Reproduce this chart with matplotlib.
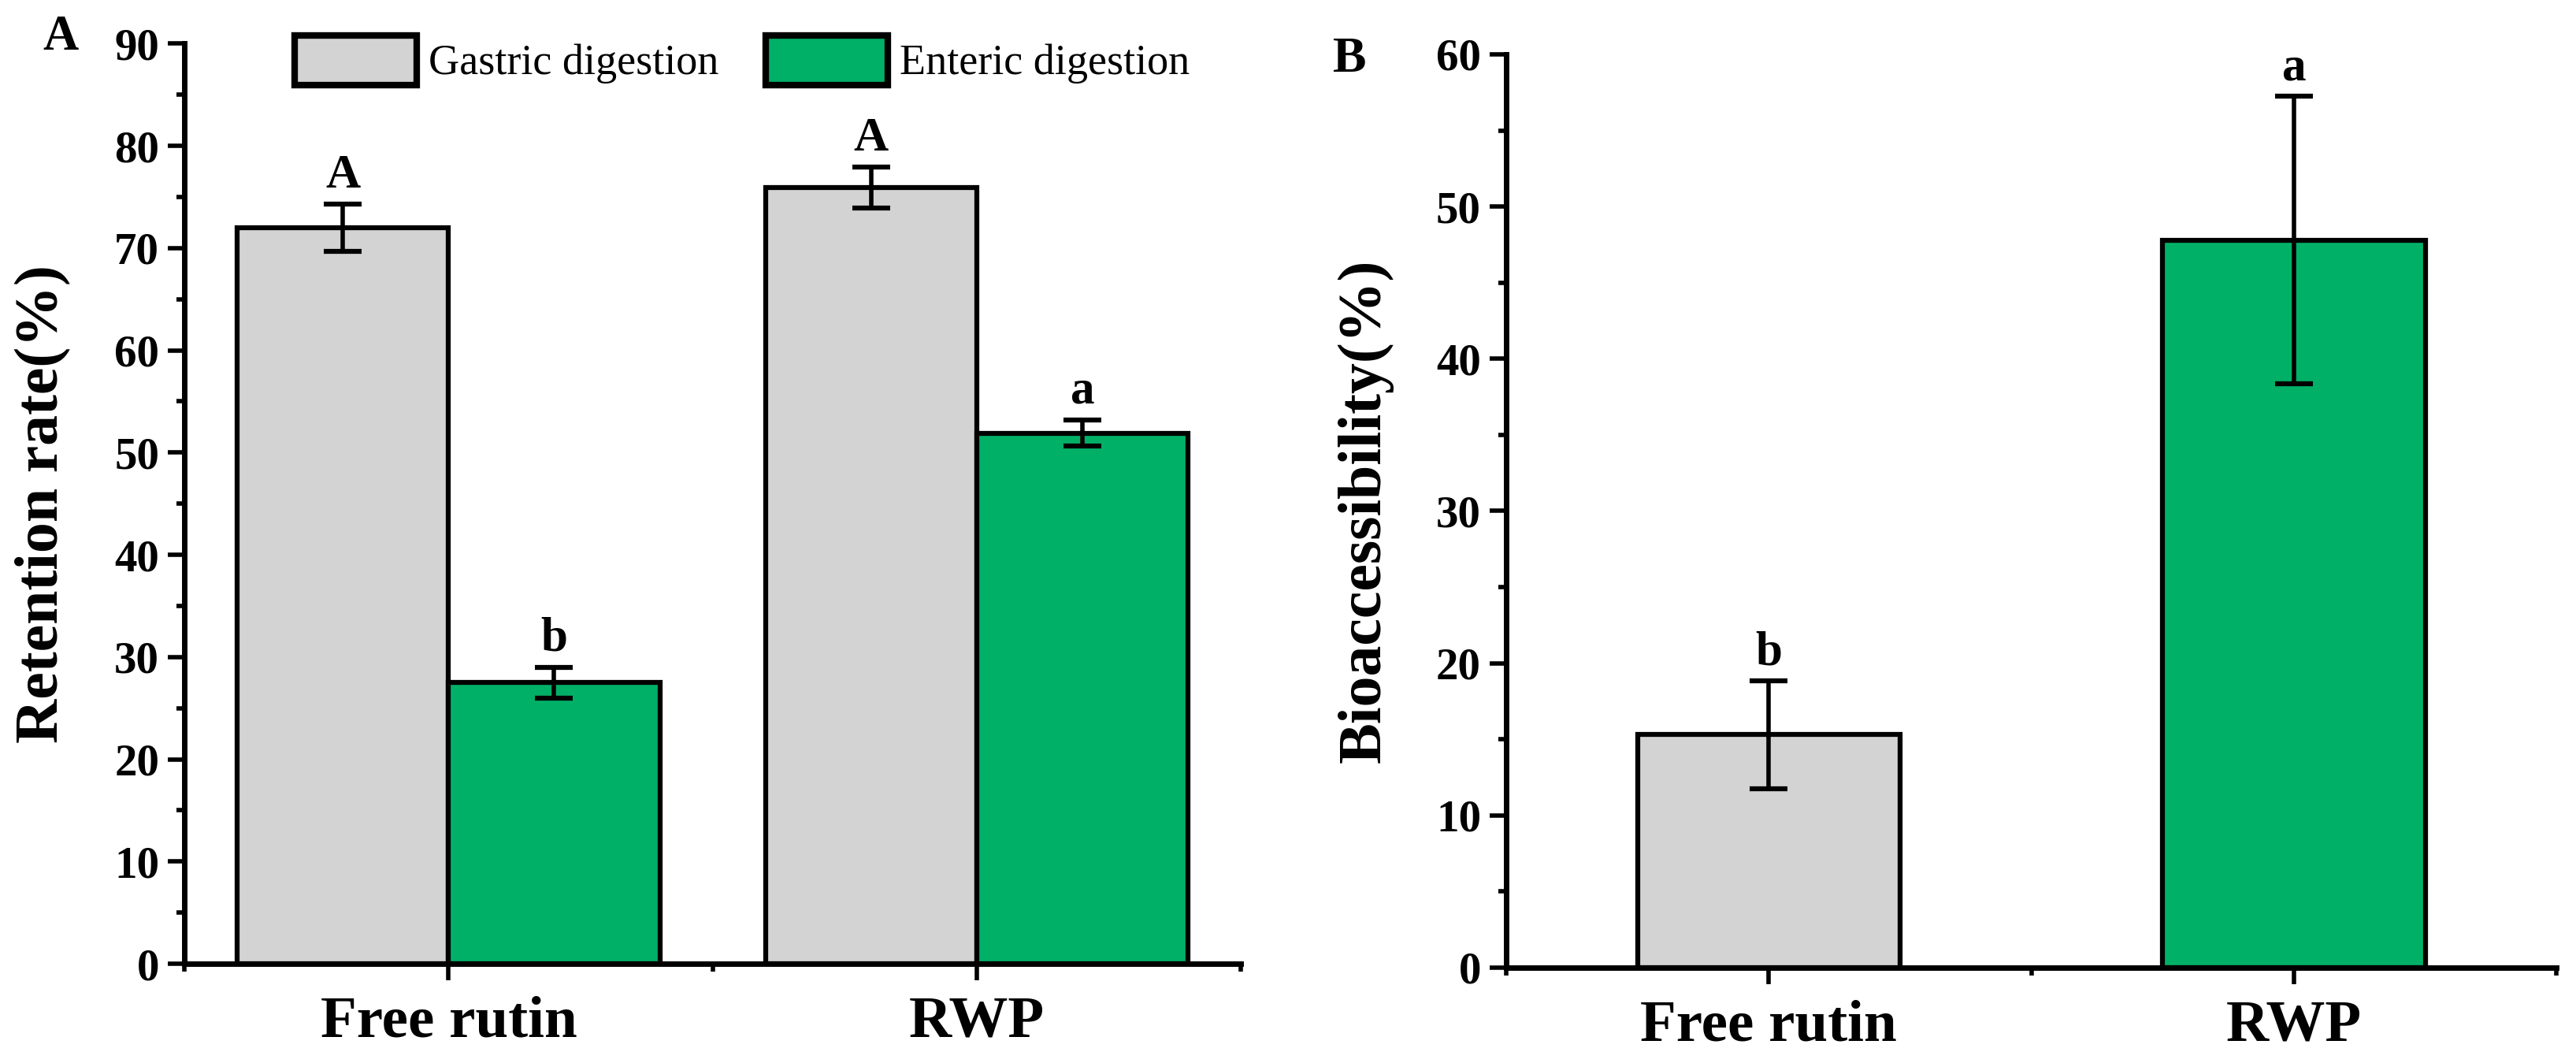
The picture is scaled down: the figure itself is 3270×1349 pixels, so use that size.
import matplotlib
matplotlib.use("Agg")
import matplotlib.pyplot as plt
import numpy as np
from matplotlib.ticker import MultipleLocator, FixedLocator

plt.rcParams['font.family'] = ['Liberation Serif', 'DejaVu Serif']

# data
categories = ["Free rutin", "RWP"]

# panel A: retention rate (%)
gastric = [72.0, 75.9]
gastric_err = [2.3, 2.0]
gastric_sig = ["A", "A"]
enteric = [27.5, 51.9]
enteric_err = [1.5, 1.3]
enteric_sig = ["b", "a"]

# panel B: bioaccessibility (%)
bioacc = [15.3, 47.8]
bioacc_err = [3.55, 9.45]
bioacc_sig = ["b", "a"]

GRAY = "#d3d3d3"
GREEN = "#00b067"
EDGE_LW = 4.5

fig = plt.figure(figsize=(32.7, 13.49), dpi=100)
axA = fig.add_axes([0.0716, 0.0934, 0.4101, 0.8656])
axB = fig.add_axes([0.5847, 0.0897, 0.4077, 0.8592])


def style_axes(ax, ymax):
    for s in ["top", "right"]:
        ax.spines[s].set_visible(False)
    for s in ["left", "bottom"]:
        ax.spines[s].set_linewidth(5)
    ax.set_xlim(0.5, 2.5)
    ax.set_ylim(0, ymax)
    ax.yaxis.set_major_locator(MultipleLocator(10))
    ax.yaxis.set_minor_locator(MultipleLocator(5))
    ax.xaxis.set_major_locator(FixedLocator([1, 2]))
    ax.xaxis.set_minor_locator(FixedLocator([0.5, 1.5, 2.5]))
    ax.set_xticklabels(categories)
    ax.tick_params(which="major", length=15, width=4, direction="out")
    ax.tick_params(which="minor", length=7, width=4, direction="out")
    ax.tick_params(axis="y", which="major", labelsize=41, pad=8)
    ax.tick_params(axis="x", which="major", labelsize=54, pad=14)
    for lab in ax.get_yticklabels() + ax.get_xticklabels():
        lab.set_fontweight("bold")


def add_letters(ax, xs, tops, errs, letters):
    for x, t, e, s in zip(xs, tops, errs, letters):
        ax.annotate(s, (x, t + e), xytext=(0, 15), textcoords="offset points",
                    ha="center", va="baseline", fontsize=44, fontweight="bold")


err_kw = dict(ecolor="black", elinewidth=4, capsize=17, capthick=4.5)
x = np.arange(1, len(categories) + 1)

# ---- panel A
w = 0.4
axA.bar(x - w / 2, gastric, w, yerr=gastric_err, color=GRAY, edgecolor="black",
        linewidth=EDGE_LW, error_kw=err_kw, label="Gastric digestion", zorder=2)
axA.bar(x + w / 2, enteric, w, yerr=enteric_err, color=GREEN, edgecolor="black",
        linewidth=EDGE_LW, error_kw=err_kw, label="Enteric digestion", zorder=2)
style_axes(axA, 90)
add_letters(axA, x - w / 2, gastric, gastric_err, gastric_sig)
add_letters(axA, x + w / 2, enteric, enteric_err, enteric_sig)
axA.set_ylabel("Retention rate(%)", fontsize=56, fontweight="bold", va="center")
axA.yaxis.set_label_coords(-0.134, 0.5)

leg = fig.legend(loc="upper left", bbox_to_anchor=(0.1144, 0.9666), ncol=2,
                 frameon=False, fontsize=39, handlelength=2.86, handleheight=1.4,
                 handletextpad=0.28, columnspacing=1.1, borderpad=0,
                 borderaxespad=0)
for p in leg.get_patches():
    p.set_linewidth(6)

# ---- panel B
wb = 0.5
axB.bar(x, bioacc, wb, yerr=bioacc_err, color=[GRAY, GREEN], edgecolor="black",
        linewidth=EDGE_LW, error_kw=err_kw, zorder=2)
style_axes(axB, 60)
add_letters(axB, x, bioacc, bioacc_err, bioacc_sig)
axB.set_ylabel("Bioaccessibility(%)", fontsize=56, fontweight="bold", va="center")
axB.yaxis.set_label_coords(-0.134, 0.5)

fig.text(77 / 3270, 1 - 48 / 1349, "A", ha="center", va="center",
         fontsize=45, fontweight="bold")
fig.text(1713 / 3270, 1 - 76 / 1349, "B", ha="center", va="center",
         fontsize=46, fontweight="bold")

fig.savefig("out.png", dpi=100)
